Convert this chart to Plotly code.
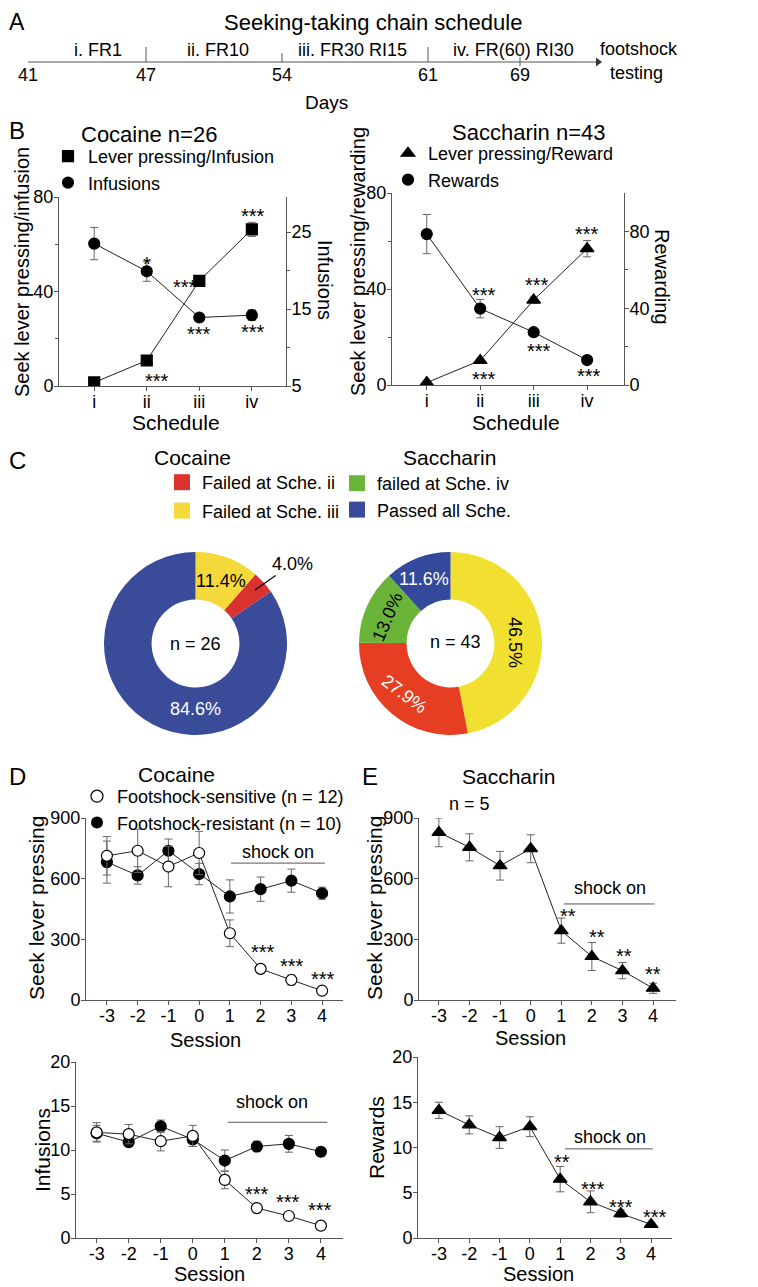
import math
import plotly.graph_objects as go

W, H = 758, 1287
OFF = 8  # page body margin: the figure is drawn 8px in from the top-left corner
FONT = "Liberation Sans, Arial, Helvetica, sans-serif"
AX = "#555555"
ERR = "#666666"

# ---------------- data ----------------
# A: schedule timeline
days = ["41", "47", "54", "61", "69"]
stages = ["i. FR1", "ii. FR10", "iii. FR30 RI15", "iv. FR(60) RI30"]

# B: training schedule
schedule = ["i", "ii", "iii", "iv"]
coc_press = [1.5, 10.8, 44.5, 66.3]
coc_press_err = [0.4, 0.6, 1.0, 3.0]
coc_inf = [23.5, 19.9, 13.9, 14.2]
coc_inf_err = [2.1, 1.3, 0.5, 0.7]
sac_press = [1.0, 10.2, 35.4, 56.8]
sac_press_err = [0.3, 0.6, 1.2, 3.4]
sac_rew = [78.6, 39.8, 27.5, 13.0]
sac_rew_err = [10.2, 4.8, 1.5, 1.0]

# C: outcome shares (%)
coc_groups = ["Failed at Sche. iii", "Failed at Sche. ii", "Passed all Sche."]
coc_share = [11.4, 4.0, 84.6]
sac_groups = ["Failed at Sche. iii", "Failed at Sche. ii", "failed at Sche. iv", "Passed all Sche."]
sac_share = [46.5, 27.9, 13.0, 11.6]

# D / E: footshock sessions
sessions = [-3, -2, -1, 0, 1, 2, 3, 4]
sens_press = [713, 738, 660, 727, 330, 154, 99, 46]
sens_press_err = [95, 107, 100, 107, 66, 18, 25, 8]
res_press = [682, 616, 738, 623, 512, 548, 590, 528]
res_press_err = [104, 43, 58, 53, 82, 60, 57, 30]
sens_inf = [12.0, 11.8, 11.0, 11.6, 6.6, 3.4, 2.5, 1.4]
sens_inf_err = [1.1, 1.1, 1.1, 1.2, 1.0, 0.3, 0.35, 0.3]
res_inf = [11.9, 10.9, 12.7, 11.2, 8.8, 10.4, 10.7, 9.8]
res_inf_err = [0.9, 0.5, 0.7, 0.8, 1.2, 0.6, 0.95, 0.45]
sac_sess_press = [829, 755, 664, 748, 343, 215, 145, 58]
sac_sess_press_err = [71, 67, 71, 69, 62, 69, 40, 25]
sac_sess_rew = [14.1, 12.5, 11.1, 12.3, 6.5, 4.0, 2.7, 1.5]
sac_sess_rew_err = [0.9, 1.0, 1.2, 1.1, 1.4, 1.2, 0.4, 0.2]

# significance marks (x, y in the panel's data units, text)
b_coc_stars = [(1, 53.4, "*"), (1.73, 43.6, "***"), (2, 23.7, "***"), (1.2, 3.8, "***"),
               (3.03, 73.7, "***"), (3.03, 24.6, "***")]
b_sac_stars = [(1.07, 39.2, "***"), (1.07, 4.2, "***"), (2.06, 43.4, "***"), (2.1, 16, "***"),
               (3.0, 64.4, "***"), (3.03, 5.5, "***")]
d_top_stars = [(2.08, 257, "***"), (3.02, 188, "***"), (4.03, 124, "***")]
d_bot_stars = [(1.99, 5.4, "***"), (2.96, 4.5, "***"), (3.96, 3.6, "***")]
e_top_stars = [(1.21, 435, "**"), (2.16, 331, "**"), (3.04, 237, "**"), (3.99, 148, "**")]
e_bot_stars = [(1.06, 8.85, "**"), (2.08, 5.9, "***"), (3.0, 3.9, "***"), (4.13, 2.8, "***")]

# colours
RED, YEL, GRN, BLU = "#D8332E", "#F5D93A", "#6BB43A", "#3A4B9A"
SAC_RED, SAC_YEL, SAC_BLU = "#E63E23", "#F2E030", "#34499B"

# layout positions for the timeline (schematic, in px)
tl_pos = [28, 146, 282, 428, 520]
tl_end = 598
stage_x = [98, 218, 352, 513]


def px_x(a, b):
    return [(a - OFF) / W, (b - OFF) / W]


def px_y(top, bottom):
    return [1 - (bottom - OFF) / H, min(1, 1 - (top - OFF) / H)]


def pp(x, y):
    return (x - OFF) / W, 1 - (y - OFF) / H


fig = go.Figure()


def note(text, x, y, size=18, **kw):
    px, py = pp(x, y)
    fig.add_annotation(text=text, x=px, y=py, xref="paper", yref="paper", xanchor="center",
                       yanchor="middle", showarrow=False,
                       font=dict(size=size, color=kw.pop("color", "black")), **kw)


def dnote(text, x, y, xa, ya, size=20, yshift=0):
    fig.add_annotation(text=text, x=x, y=y, xref=xa, yref=ya, showarrow=False, xanchor="center",
                       yanchor="middle", font=dict(size=size), yshift=yshift)


def series(x, y, err, xa, ya, symbol, fill, name=None, legend="legend", size=11):
    fig.add_trace(go.Scatter(x=x, y=y, mode="lines", line=dict(color="#222", width=1),
                             xaxis=xa, yaxis=ya, showlegend=False, hoverinfo="skip"))
    fig.add_trace(go.Scatter(
        x=x, y=y, mode="markers", name=name,
        marker=dict(symbol=symbol, size=size, color=fill, line=dict(color="black", width=1.2)),
        error_y=dict(type="data", array=err, color=ERR, thickness=1, width=4),
        xaxis=xa, yaxis=ya, showlegend=name is not None, legend=legend))


# ---------------- A: timeline ----------------
fig.add_trace(go.Scatter(x=[tl_pos[0], tl_end], y=[0, 0], mode="lines",
                         line=dict(color=AX, width=1.2), xaxis="x", yaxis="y",
                         showlegend=False, hoverinfo="skip"))
fig.add_trace(go.Scatter(x=[tl_end], y=[0], mode="markers",
                         marker=dict(symbol="triangle-right", size=8, color="#333"),
                         xaxis="x", yaxis="y", showlegend=False, hoverinfo="skip"))
tick_hi = [0, 15, 9, 15, 5]
tick_lo = [0, 0, 0, 0, -4]
tx, ty = [], []
for p, lo, hi in zip(tl_pos[1:], tick_lo[1:], tick_hi[1:]):
    tx += [p, p, None]
    ty += [lo, hi, None]
fig.add_trace(go.Scatter(x=tx, y=ty, mode="lines", line=dict(color=AX, width=1),
                         xaxis="x", yaxis="y", showlegend=False, hoverinfo="skip"))
for s, sx in zip(stages, stage_x):
    dnote(s, sx, 12, "x", "y", size=18)
dnote("footshock", 639, 13, "x", "y", size=18)
dnote("testing", 636, -11, "x", "y", size=18)
dnote("Days", 326, -40, "x", "y", size=19)

# ---------------- B: cocaine ----------------
series(schedule, coc_press, coc_press_err, "x2", "y2", "square", "black", "Lever pressing/Infusion", "legend")
series(schedule, coc_inf, coc_inf_err, "x2", "y3", "circle", "black", "Infusions", "legend")
for x, y, t in b_coc_stars:
    dnote(t, x, y, "x2", "y2", yshift=-4)

# ---------------- B: saccharin ----------------
series(schedule, sac_press, sac_press_err, "x3", "y4", "triangle-up", "black", "Lever pressing/Reward", "legend2", 12)
series(schedule, sac_rew, sac_rew_err, "x3", "y5", "circle", "black", "Rewards", "legend2")
for x, y, t in b_sac_stars:
    dnote(t, x, y, "x3", "y4", yshift=-4)

# ---------------- C: donuts ----------------
fig.add_trace(go.Pie(values=coc_share, labels=coc_groups, hole=0.48, sort=False,
                     direction="clockwise", rotation=0, textinfo="none", hoverinfo="label+value",
                     marker=dict(colors=[YEL, RED, BLU], line=dict(width=0)),
                     domain=dict(x=px_x(104, 287), y=px_y(552, 735)), showlegend=False))
fig.add_trace(go.Pie(values=sac_share, labels=sac_groups, hole=0.48, sort=False,
                     direction="clockwise", rotation=0, textinfo="none", hoverinfo="label+value",
                     marker=dict(colors=[SAC_YEL, SAC_RED, GRN, SAC_BLU], line=dict(width=0)),
                     domain=dict(x=px_x(359, 542), y=px_y(552, 735)), showlegend=False))

# legend swatches
for lab, col, lg in [("Failed at Sche. ii", RED, "legend4"), ("Failed at Sche. iii", YEL, "legend4"),
                     ("failed at Sche. iv", GRN, "legend5"), ("Passed all Sche.", BLU, "legend5")]:
    fig.add_trace(go.Scatter(x=[None], y=[None], mode="markers", name=lab, legend=lg, legendgroup=lab,
                             marker=dict(symbol="square", size=16, color=col),
                             xaxis="x2", yaxis="y2"))

# donut labels: (angle deg clockwise from top, radius px, text angle, colour)
coc_centre, sac_centre = (195.5, 643.5), (450.5, 642.5)
coc_lbl = [(22, 67, 0, "black"), None, (180, 65, 0, "white")]
sac_lbl = [(90, 65, 90, "black"), (222, 69, 37, "white"), (292, 68, -67, "black"), (337, 69, 0, "white")]
for (cx, cy), vals, lbls in [(coc_centre, coc_share, coc_lbl), (sac_centre, sac_share, sac_lbl)]:
    for v, spec in zip(vals, lbls):
        if spec is None:
            continue
        ang, r, ta, col = spec
        lx = cx + r * math.sin(math.radians(ang))
        ly = cy - r * math.cos(math.radians(ang))
        note(f"{v:.1f}%", lx, ly, size=18, textangle=ta, color=col)
ax_, ay_ = pp(255, 590)
fig.add_annotation(text=f"{coc_share[1]:.1f}%", x=ax_, y=ay_, xref="paper", yref="paper",
                   showarrow=True, arrowhead=0, arrowwidth=1.2, arrowcolor="black", ax=37, ay=-26,
                   standoff=0, font=dict(size=18))
note("n = 26", coc_centre[0], coc_centre[1], size=18)
note("n = 43", 455, 642, size=18)

# ---------------- D: cocaine footshock ----------------
series(sessions, res_press, res_press_err, "x4", "y6", "circle", "black", None, size=11)
series(sessions, sens_press, sens_press_err, "x4", "y6", "circle", "white", None, size=11)
fig.add_trace(go.Scatter(x=[None], y=[None], mode="markers", name="Footshock-sensitive (n = 12)",
                         legend="legend3", xaxis="x4", yaxis="y6",
                         marker=dict(symbol="circle", size=12, color="white", line=dict(color="black", width=1.2))))
fig.add_trace(go.Scatter(x=[None], y=[None], mode="markers", name="Footshock-resistant (n = 10)",
                         legend="legend3", xaxis="x4", yaxis="y6",
                         marker=dict(symbol="circle", size=12, color="black")))
for x, y, t in d_top_stars:
    dnote(t, x, y, "x4", "y6", yshift=-4)

series(sessions, res_inf, res_inf_err, "x5", "y7", "circle", "black", None, size=11)
series(sessions, sens_inf, sens_inf_err, "x5", "y7", "circle", "white", None, size=11)
for x, y, t in d_bot_stars:
    dnote(t, x, y, "x5", "y7", yshift=-4)

# ---------------- E: saccharin footshock ----------------
series(sessions, sac_sess_press, sac_sess_press_err, "x6", "y8", "triangle-up", "black", None, size=12)
for x, y, t in e_top_stars:
    dnote(t, x, y, "x6", "y8", yshift=-4)
series(sessions, sac_sess_rew, sac_sess_rew_err, "x7", "y9", "triangle-up", "black", None, size=12)
for x, y, t in e_bot_stars:
    dnote(t, x, y, "x7", "y9", yshift=-4)

# shock-on bars
for xa, ya, x0, x1, yl, xt, yt in [("x4", "y6", 1.04, 4.09, 677, 2.55, 731),
                                   ("x5", "y7", 1.09, 4.2, 13.15, 2.46, 15.4),
                                   ("x6", "y8", 1.08, 4.05, 475, 2.58, 553),
                                   ("x7", "y9", 1.16, 4.06, 9.85, 2.64, 11.2)]:
    fig.add_shape(type="line", xref=xa, yref=ya, x0=x0, x1=x1, y0=yl, y1=yl,
                  line=dict(color=AX, width=1))
    dnote("shock on", xt, yt, xa, ya, size=18)

# ---------------- titles & axis labels ----------------
note("A", 17, 22, size=23)
note("Seeking-taking chain schedule", 373, 22, size=22)
note("B", 17, 131, size=24)
note("Cocaine n=26", 149, 135, size=22)
note("Saccharin n=43", 529, 133, size=22)
note("Seek lever pressing/infusion", 22, 272, size=20, textangle=-90)
note("Infusions", 325, 280, size=20, textangle=90)
note("Seek lever pressing/rewarding", 358, 262, size=20, textangle=-90)
note("Rewarding", 662, 277, size=20, textangle=90)
note("Schedule", 176, 422, size=21)
note("Schedule", 516, 422, size=21)
note("C", 17, 460, size=24)
note("Cocaine", 192, 458, size=21)
note("Saccharin", 449, 458, size=21)
note("D", 17, 776, size=24)
note("Cocaine", 176, 774, size=21)
note("E", 370, 776, size=24)
note("Saccharin", 508, 776, size=21)
note("n = 5", 469, 804, size=18)
note("Seek lever pressing", 36, 908, size=21, textangle=-90)
note("Seek lever pressing", 374, 908, size=21, textangle=-90)
note("Session", 205, 1040, size=20)
note("Session", 530, 1038, size=20)
note("Infusions", 42, 1150, size=21, textangle=-90)
note("Rewards", 376, 1138, size=21, textangle=-90)
note("Session", 209, 1274, size=20)
note("Session", 538, 1274, size=20)


# ---------------- axes ----------------
def xax(dom, rng, anchor, **kw):
    d = dict(domain=px_x(*dom), range=rng, anchor=anchor, showline=True, linecolor=AX, linewidth=1,
             ticks="outside", ticklen=4, tickcolor=AX, showgrid=False, zeroline=False, automargin=False,
             ticklabelstandoff=-5, tickfont=dict(size=18, color="black"))
    d.update(kw)
    return d


def yax(dom, rng, anchor, tickvals, minor=None, **kw):
    d = dict(domain=px_y(*dom), range=rng, anchor=anchor, showline=True, linecolor=AX, linewidth=1,
             ticks="outside", ticklen=4, tickcolor=AX, showgrid=False, zeroline=False, automargin=False,
             ticklabelstandoff=-3, tickvals=tickvals, tickfont=dict(size=18, color="black"))
    if minor:
        d["minor"] = dict(tickvals=minor, ticks="outside", ticklen=3, tickcolor=AX, showgrid=False)
    d.update(kw)
    return d


sess_txt = [str(s) for s in sessions]

fig.update_layout(
    width=W, height=H, margin=dict(l=0, r=0, t=0, b=0, pad=0, autoexpand=False),
    plot_bgcolor="white", paper_bgcolor="white",
    font=dict(family=FONT, size=18, color="black"),
    # A (px-scaled schematic axis)
    xaxis=dict(domain=[0, 1], range=[OFF, W + OFF], anchor="free", position=1 - (62 - OFF) / H,
               automargin=False, tickvals=tl_pos, ticktext=days, ticks="", showline=False,
               showgrid=False, zeroline=False, tickfont=dict(size=18, color="black")),
    yaxis=dict(domain=px_y(OFF, 110), range=[-48, 62 - OFF], visible=False, automargin=False),
    # B
    xaxis2=xax((59, 286), [-0.67, 3.65], "y2", type="category"),
    yaxis2=yax((197, 386), [0, 80], "x2", [0, 40, 80], [20, 60]),
    yaxis3=yax((197, 386), [5, 29.55], "x2", [5, 15, 25], [10, 20], overlaying="y2", side="right"),
    xaxis3=xax((392, 624), [-0.65, 3.69], "y4", type="category"),
    yaxis4=yax((193, 385), [0, 80], "x3", [0, 40, 80], [20, 60]),
    yaxis5=yax((193, 385), [0, 100], "x3", [0, 40, 80], [20, 60], overlaying="y4", side="right"),
    # D
    xaxis4=xax((86, 343), [-3.68, 4.68], "y6", tickvals=sessions, ticktext=sess_txt),
    yaxis6=yax((818, 1000), [0, 900], "x4", [0, 300, 600, 900]),
    xaxis5=xax((76, 343), [-3.645, 4.69], "y7", tickvals=sessions, ticktext=sess_txt),
    yaxis7=yax((1062, 1238), [0, 20], "x5", [0, 5, 10, 15, 20]),
    # E
    xaxis6=xax((419, 676), [-3.65, 4.75], "y8", tickvals=sessions, ticktext=sess_txt),
    yaxis8=yax((818, 1000), [0, 900], "x6", [0, 300, 600, 900]),
    xaxis7=xax((418, 672), [-3.69, 4.69], "y9", tickvals=sessions, ticktext=sess_txt),
    yaxis9=yax((1057, 1238), [0, 20], "x7", [0, 5, 10, 15, 20]),
)

leg = dict(xanchor="left", yanchor="top", bgcolor="rgba(0,0,0,0)", borderwidth=0,
           font=dict(size=18, color="black"), itemclick=False, itemdoubleclick=False)


def legpos(left, top, **kw):
    lx, ly = pp(left, top)
    return dict(leg, x=lx, y=ly, **kw)


fig.update_layout(
    legend=legpos(48, 138),
    legend2=legpos(388, 135),
    legend3=legpos(77, 778),
    legend4=legpos(162, 464, tracegroupgap=2),
    legend5=legpos(337, 465, tracegroupgap=0),
)

fig.write_html("out.html")
